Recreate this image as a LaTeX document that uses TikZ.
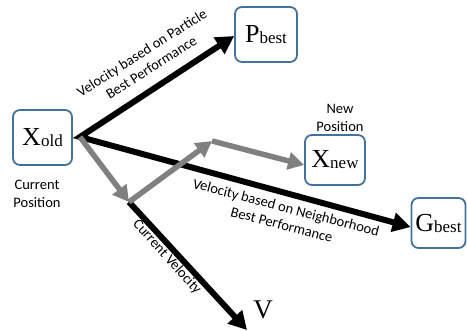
\documentclass[tikz,border=0pt]{standalone}
\usepackage{fontspec}
\setmainfont{Liberation Serif}
\newfontfamily\lab{Carlito}
\usetikzlibrary{arrows.meta}
\definecolor{boxblue}{RGB}{65,113,156}
\definecolor{arrgray}{RGB}{128,128,128}
\newcommand{\sbs}[1]{\raisebox{-1pt}{\fontsize{17}{17}\selectfont #1}}
\begin{document}
\begin{tikzpicture}[x=1pt,y=-1pt,
  box/.style={draw=boxblue, line width=1.8pt, rounded corners=7pt, inner sep=0pt,
    font=\fontsize{26}{26}\selectfont},
  lbl/.style={font=\lab\fontsize{14.5}{17.5}\selectfont, align=center, inner sep=0pt},
  blkpair/.style={line width=6pt, line join=miter,
    {Triangle[length=18pt,width=19pt]}-{Triangle[length=18pt,width=19pt]}},
  blk/.style={line width=6pt, -{Triangle[length=18pt,width=19pt]}},
  gry/.style={draw=arrgray, line width=5.5pt, -{Triangle[length=16pt,width=17pt]}}
]
\useasboundingbox (0,0) rectangle (467,331);

\node[box, minimum width=59pt, minimum height=55pt] (xold) at (42.5,137.5) {X\sbs{old}};
\node[box, minimum width=62pt, minimum height=55pt] (pbest) at (266,34.5) {P\sbs{best}};
\node[box, minimum width=60pt, minimum height=50pt] (xnew) at (335,160) {X\sbs{new}};
\node[box, minimum width=54pt, minimum height=50pt] (gbest) at (438.5,223) {G\sbs{best}};
\node[font=\fontsize{27}{27}\selectfont, inner sep=0pt] (v) at (263,310) {V};

\coordinate (o) at (80,137);
\coordinate (a) at (129,202);
\coordinate (b) at (212,141);
\coordinate (vtip) at (247,330);

\draw[blkpair] ([yshift=-1.5pt]pbest.west) -- (o) -- ([yshift=-4pt]gbest.west);
\draw[blk] (a) -- (vtip);

\draw[gry] (o) -- (a);
\draw[gry] (a) -- (b);
\draw[gry] (b) -- ([yshift=-5pt]xnew.west);

\node[lbl] (lcp) at (37,194) {Current\\Position};
\node[lbl] (lnp) at (340,118) {New\\Position};
\node[lbl, rotate=32.5] (lpart) at (146.5,60) {Velocity based on Particle\\Best Performance};
\node[lbl, rotate=-14.7] (lneigh) at (284,216) {Velocity based on Neighborhood\\Best Performance};
\node[lbl, rotate=-48] (lcv) at (167,257) {Current Velocity};
\end{tikzpicture}
\end{document}
